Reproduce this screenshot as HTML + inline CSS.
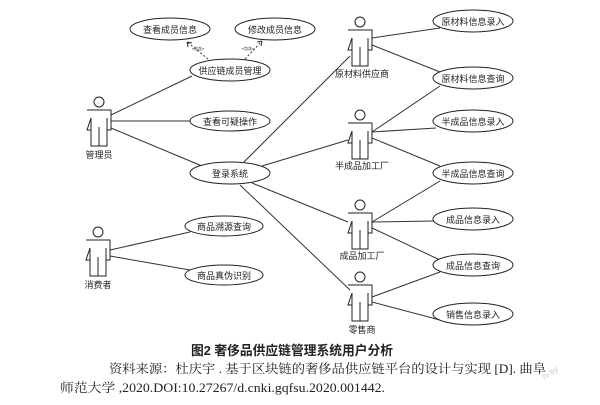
<!DOCTYPE html>
<html><head><meta charset="utf-8"><style>
body{margin:0;background:#fff;width:600px;height:400px;overflow:hidden}
svg text{font-family:"Liberation Sans","Noto Sans CJK SC",sans-serif;fill:#222}
</style></head><body>
<svg width="600" height="400" viewBox="0 0 600 400" xmlns="http://www.w3.org/2000/svg">
<defs>
<g id="actor" fill="#fff" stroke="#222" stroke-width="1">
<circle cx="0" cy="-8" r="5"/>
<path d="M-12,0 H12 V20 H8 V8 M8,20 V36 H-8 V20 M-8,8 V20 H-12 Z"/>
<path d="M0,17 V36 M-8,8 V36 M8,8 V36" fill="none"/>
</g>
</defs>
<g stroke="#333" stroke-width="1" fill="none">
<line x1="111" y1="115" x2="192" y2="76"/>
<line x1="111" y1="121" x2="190" y2="121"/>
<line x1="111" y1="128" x2="202" y2="166"/>
<line x1="243" y1="163" x2="350" y2="56"/>
<line x1="262" y1="166" x2="348" y2="140"/>
<line x1="252" y1="183" x2="348" y2="222"/>
<line x1="240" y1="185" x2="350" y2="290"/>
<line x1="372" y1="38" x2="440" y2="28"/>
<line x1="372" y1="45" x2="440" y2="72"/>
<line x1="372" y1="132" x2="440" y2="86"/>
<line x1="372" y1="132" x2="436" y2="128"/>
<line x1="372" y1="138" x2="440" y2="166"/>
<line x1="372" y1="222" x2="440" y2="181"/>
<line x1="372" y1="222" x2="434" y2="221"/>
<line x1="372" y1="228" x2="440" y2="260"/>
<line x1="372" y1="297" x2="440" y2="272"/>
<line x1="372" y1="302" x2="440" y2="320"/>
<line x1="110" y1="250" x2="190" y2="232"/>
<line x1="110" y1="256" x2="190" y2="270"/>
<line x1="208" y1="59" x2="187" y2="42" stroke-dasharray="2,2"/>
<path d="M187,42 l1,5 M187,42 l5,1"/>
<line x1="245" y1="59" x2="262" y2="41" stroke-dasharray="2,2"/>
<path d="M262,41 l-5,1 M262,41 l-1,5"/>
</g>
<g fill="#fff" stroke="#222" stroke-width="1">
<ellipse cx="170" cy="29" rx="40" ry="11"/>
<ellipse cx="275" cy="29" rx="40" ry="11"/>
<ellipse cx="230" cy="70" rx="40" ry="11"/>
<ellipse cx="230" cy="121" rx="40" ry="10"/>
<ellipse cx="230" cy="173" rx="40" ry="11"/>
<ellipse cx="224" cy="226" rx="39" ry="10"/>
<ellipse cx="224" cy="275" rx="39" ry="10"/>
<ellipse cx="473" cy="21" rx="40" ry="11"/>
<ellipse cx="473" cy="78" rx="40" ry="11"/>
<ellipse cx="473" cy="121" rx="40" ry="11"/>
<ellipse cx="473" cy="173" rx="40" ry="11"/>
<ellipse cx="473" cy="219" rx="40" ry="11"/>
<ellipse cx="473" cy="265" rx="40" ry="11"/>
<ellipse cx="473" cy="314" rx="40" ry="11"/>
</g>
<use href="#actor" x="99" y="110"/>
<use href="#actor" x="98" y="240"/>
<use href="#actor" x="360" y="30"/>
<use href="#actor" x="360" y="123"/>
<use href="#actor" x="360" y="213"/>
<use href="#actor" x="360" y="285"/>
<g font-size="9" text-anchor="middle">
<text x="170" y="33">查看成员信息</text>
<text x="275" y="33">修改成员信息</text>
<text x="230" y="74">供应链成员管理</text>
<text x="230" y="125">查看可疑操作</text>
<text x="230" y="177">登录系统</text>
<text x="224" y="230">商品溯源查询</text>
<text x="224" y="279">商品真伪识别</text>
<text x="473" y="25">原材料信息录入</text>
<text x="473" y="82">原材料信息查询</text>
<text x="473" y="125">半成品信息录入</text>
<text x="473" y="177">半成品信息查询</text>
<text x="473" y="223">成品信息录入</text>
<text x="473" y="269">成品信息查询</text>
<text x="473" y="318">销售信息录入</text>
<text x="99" y="158">管理员</text>
<text x="98" y="288">消费者</text>
<text x="362" y="77">原材料供应商</text>
<text x="362" y="169">半成品加工厂</text>
<text x="362" y="259">成品加工厂</text>
<text x="362" y="333">零售商</text>
</g>
<g font-size="4" text-anchor="middle">
<text x="198" y="50">«包含»</text>
<text x="248" y="50">«包含»</text>
</g>
<text x="191" y="355" font-size="13" textLength="202" lengthAdjust="spacingAndGlyphs" style="font-weight:bold">图2  奢侈品供应链管理系统用户分析</text>
<text x="109" y="373" font-size="12.5" textLength="437" lengthAdjust="spacingAndGlyphs" style="font-family:'Liberation Serif','Noto Serif CJK SC',serif">资料来源：杜庆宇 . 基于区块链的奢侈品供应链平台的设计与实现 [D]. 曲阜</text>
<text x="60" y="392" font-size="12.5" textLength="325" lengthAdjust="spacingAndGlyphs" style="font-family:'Liberation Serif','Noto Serif CJK SC',serif">师范大学 ,2020.DOI:10.27267/d.cnki.gqfsu.2020.001442.</text>
<text x="545" y="380" font-size="9" transform="rotate(-35 545 380)" style="fill:#ccc">h-sy</text>
</svg>
</body></html>
